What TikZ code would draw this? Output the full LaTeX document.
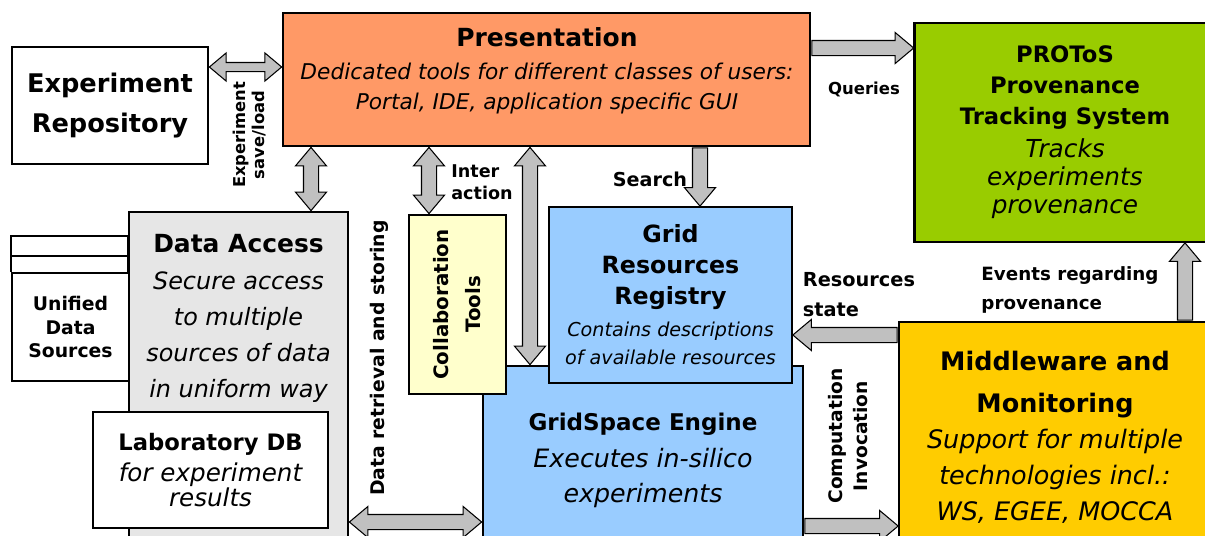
\documentclass[tikz,border=0pt]{standalone}
\usepackage{fontspec}
\setmainfont{DejaVu Sans}[ItalicFont={DejaVu Sans Oblique}, BoldFont={DejaVu Sans Bold}]
\usetikzlibrary{shapes.arrows, calc}

\definecolor{presorange}{HTML}{FF9966}
\definecolor{protosgreen}{HTML}{99CC00}
\definecolor{gridblue}{HTML}{99CCFF}
\definecolor{mwyellow}{HTML}{FFCC00}
\definecolor{collabyellow}{HTML}{FFFFCC}
\definecolor{accessgray}{HTML}{E6E6E6}
\definecolor{arrowgray}{HTML}{C0C0C0}

\newcommand{\fs}[2]{\fontsize{#1}{#2}\selectfont}
\newcommand{\ttl}[1]{\upshape\bfseries\fontsize{#1}{#1}\selectfont}

\tikzset{
  box/.style={draw, line width=1.6pt, inner sep=0pt},
  txt/.style={align=center, inner sep=0pt},
  lbl/.style={inner sep=0pt, align=left},
  dblarr/.style={double arrow, draw, fill=arrowgray, line width=0.6pt,
    inner xsep=0pt, inner ysep=0.14cm, double arrow head extend=0.16cm,
    double arrow tip angle=80},
  sglarr/.style={single arrow, draw, fill=arrowgray, line width=0.6pt,
    inner xsep=0pt, inner ysep=0.14cm, single arrow head extend=0.16cm,
    single arrow tip angle=80}
}

% block arrows between two points on named nodes
\newcommand{\dblarrow}[4][]{%
  \path let \p1=(#3), \p2=(#4), \n1={veclen(\x2-\x1,\y2-\y1)},
    \n2={atan2(\y2-\y1,\x2-\x1)} in
    node[dblarr, #1, minimum height=\n1, rotate=\n2] (#2) at ($(\p1)!0.5!(\p2)$) {};}
\newcommand{\sglarrow}[4][]{%
  \path let \p1=(#3), \p2=(#4), \n1={veclen(\x2-\x1,\y2-\y1)},
    \n2={atan2(\y2-\y1,\x2-\x1)} in
    node[sglarr, #1, minimum height=\n1, rotate=\n2, anchor=tail] (#2) at (\p1) {};}

\begin{document}
\begin{tikzpicture}[x=0.02cm, y=-0.02cm]
  \clip (0,0) rectangle (1205,535);

  % Data access column
  \node[box, fill=accessgray, minimum width=4.38cm, minimum height=7.76cm] (access) at (238.5,406) {};
  \node[box, line width=1.2pt, fill=white, minimum width=2.34cm, minimum height=2.16cm,
        txt, font=\bfseries\fs{10.7}{13.4}] (uds) at (70.5,327) {Unified\\Data\\Sources};
  \draw[line width=1.2pt] (uds.north west) -- ++(0,-36) -- ++(117,0) -- ++(0,36);
  \draw[line width=1.2pt] ($(uds.north west)+(0,-16)$) -- ++(117,0);
  \node[box, fill=white, minimum width=4.7cm, minimum height=2.32cm,
        txt, font=\itshape\fs{14}{14}] (labdb) at (210.5,470)
        {{\ttl{12.9}Laboratory DB}\\[4pt]for experiment\\results};

  % Grid part
  \node[box, fill=gridblue, minimum width=6.4cm, minimum height=4.68cm] (engine) at (643,483) {};
  \node[box, fill=collabyellow, minimum width=1.94cm, minimum height=3.58cm] (collab) at (457.5,304.5) {};
  \node[txt, rotate=90, font=\bfseries\fs{11.3}{18.2}] (collab-t) at (collab) {Collaboration\\Tools};
  \node[box, fill=gridblue, minimum width=4.86cm, minimum height=3.52cm,
        txt, font=\itshape\fs{10.9}{16}] (reg) at (670.5,295)
        {{\ttl{13.5}Grid}\\[1.6pt]{\ttl{13.5}Resources}\\[1.6pt]{\ttl{13.5}Registry}\\[2.2pt]
         Contains descriptions\\of available resources};

  % Top row
  \node[box, fill=presorange, minimum width=10.54cm, minimum height=2.66cm] (pres) at (546.5,79.5) {};
  \node[box, fill=white, minimum width=3.92cm, minimum height=2.34cm,
        txt, font=\bfseries\fs{14.6}{23.3}] (repo) at (110,105.5) {Experiment\\Repository};
  \node[box, fill=protosgreen, minimum width=6.02cm, minimum height=4.38cm,
        txt, font=\itshape\fs{14.1}{15.9}] (protos) at (1065,132.5)
        {{\ttl{12.9}PROToS}\\[1.7pt]{\ttl{12.9}Provenance}\\[1.7pt]{\ttl{12.9}Tracking System}\\[2.9pt]
         Tracks\\experiments\\provenance};
  \node[box, fill=mwyellow, minimum width=6.32cm, minimum height=5.56cm] (mw) at (1057,461) {};

  % Box texts
  \node[txt, font=\itshape\fs{12.35}{17.1}] (pres-t) at (547,71)
    {{\ttl{14.2}Presentation}\\[1.7pt]Dedicated tools for different classes of users:\\
     Portal, IDE, application specific GUI};
  \node[txt, font=\itshape\fs{13.6}{20.5}] (access-t) at (238.5,318.5)
    {{\ttl{14.2}Data Access}\\[0.5pt]Secure access\\to multiple\\sources of data\\in uniform way};
  \node[txt, font=\itshape\fs{14.4}{19.9}] (engine-t) at (643,460)
    {{\ttl{13.1}GridSpace Engine}\\[1.1pt]Executes in-silico\\experiments};
  \node[txt, font=\itshape\fs{14.5}{20.5}] (mw-t) at (1055,437)
    {{\ttl{14.5}Middleware and}\\[3.4pt]{\ttl{14.5}Monitoring}\\Support for multiple\\
     technologies incl.:\\WS, EGEE, MOCCA};

  % Connectors
  \dblarrow[inner ysep=0.08cm, double arrow head extend=0.19cm]{save}{repo.east |- 0,67}{pres.west |- 0,67}
  \dblarrow{presaccess}{311,0 |- pres.south}{311,0 |- access.north}
  \dblarrow{prescollab}{429,0 |- pres.south}{429,0 |- collab.north}
  \dblarrow{presengine}{530,0 |- pres.south}{530,0 |- engine.north}
  \sglarrow{search}{700,0 |- pres.south}{700,0 |- reg.north}
  \sglarrow{queries}{pres.east |- 0,48}{protos.west |- 0,48}
  \sglarrow{events}{1185,0 |- mw.north}{1185,0 |- protos.south}
  \sglarrow{resstate}{mw.west |- 0,335}{reg.east |- 0,335}
  \sglarrow{invoke}{engine.east |- 0,526}{mw.west |- 0,526}
  \dblarrow{retrieval}{access.east |- 0,522}{engine.west |- 0,522}

  % Connector labels
  \node[lbl, align=center, rotate=90, font=\bfseries\fs{9.3}{10.8}] (save-l) at (250,135) {Experiment\\save/load};
  \node[lbl, font=\bfseries\fs{10}{12.5}] (inter-l) at (482,182) {Inter\\action};
  \node[lbl, font=\bfseries\fs{10.9}{13}] (search-l) at (650,179) {Search};
  \node[lbl, font=\bfseries\fs{9.4}{11}] (queries-l) at (864,89) {Queries};
  \node[lbl, rotate=90, font=\bfseries\fs{10.7}{13}] (retrieval-l) at (379,358) {Data retrieval and storing};
  \node[lbl, font=\bfseries\fs{11}{17}] (resstate-l) at (859,295) {Resources\\state};
  \node[lbl, font=\bfseries\fs{10.4}{16}] (events-l) at (1070,290) {Events regarding\\provenance};
  \node[lbl, align=center, rotate=90, font=\bfseries\fs{10.6}{14.2}] (invoke-l) at (848,436) {Computation\\Invocation};
\end{tikzpicture}
\end{document}
